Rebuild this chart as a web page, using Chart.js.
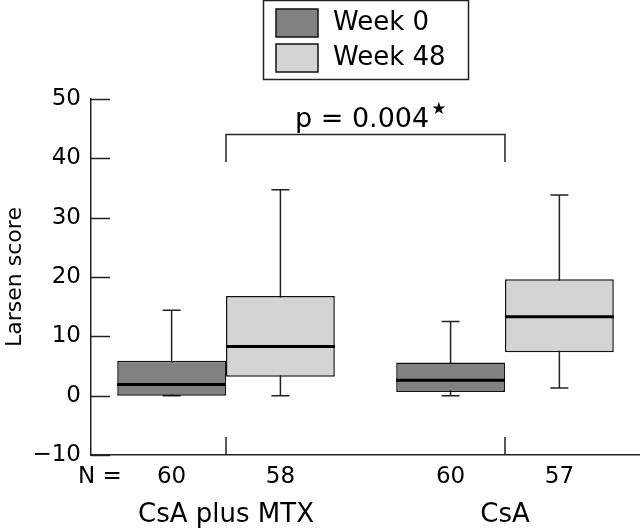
<!DOCTYPE html>
<html><head><meta charset="utf-8">
<script src="https://cdn.jsdelivr.net/npm/chart.js@4/dist/chart.umd.min.js"></script>
<style>html,body{margin:0;padding:0;background:#fff}#wrap{width:640px;height:532px;position:relative}</style>
</head><body><div id="wrap"><canvas id="c"></canvas></div>
<script>
// ---- data ----
const categories = ["CsA plus MTX", "CsA"];
const seriesNames = ["Week 0", "Week 48"];
const week0Min = [0, 0];
const week0Q1 = [0, 0.6];
const week0Median = [1.9, 2.6];
const week0Q3 = [5.9, 5.6];
const week0Max = [14.4, 12.5];
const week48Min = [0, 1.3];
const week48Q1 = [3.2, 7.3];
const week48Median = [8.3, 13.3];
const week48Q3 = [16.8, 19.6];
const week48Max = [34.7, 33.8];
const week0N = [60, 60];
const week48N = [58, 57];
const yTicks = [-10, 0, 10, 20, 30, 40, 50];
const nLabel = "N =";
const pLabel = "p = 0.004";
const pStar = "\u2605";
const bracketTop = 44.0;
const bracketBottom = 39.4;

const FONT = "'DejaVu Sans', sans-serif";
const COL0 = '#818181', COL48 = '#d3d4d3';

const datasets = [
  {label: seriesNames[0], data: categories.map((c,i)=>({x: i, y: [week0Q1[i], week0Q3[i]]})),
   mins: week0Min, meds: week0Median, maxs: week0Max, ns: week0N, backgroundColor: COL0},
  {label: seriesNames[1], data: categories.map((c,i)=>({x: i, y: [week48Q1[i], week48Q3[i]]})),
   mins: week48Min, meds: week48Median, maxs: week48Max, ns: week48N, backgroundColor: COL48}
].map(d => Object.assign(d, {borderColor:'#111', borderWidth:1.5, borderSkipped:false,
   categoryPercentage:0.78, barPercentage:1.0}));

const boxPlugin = {
  id: 'boxExtras',
  beforeDatasetsDraw(chart) {
    const ctx = chart.ctx, y = chart.scales.y;
    ctx.save();
    ctx.strokeStyle = '#222'; ctx.lineWidth = 1.5;
    chart.data.datasets.forEach((ds, di) => {
      chart.getDatasetMeta(di).data.forEach((el, i) => {
        const x = el.x, cap = 9;
        const yMax = y.getPixelForValue(ds.maxs[i]), yMin = y.getPixelForValue(ds.mins[i]);
        const yMed = y.getPixelForValue(ds.meds[i]);
        ctx.beginPath();
        ctx.moveTo(x, yMed); ctx.lineTo(x, yMax);
        ctx.moveTo(x - cap, yMax); ctx.lineTo(x + cap, yMax);
        ctx.moveTo(x, yMed); ctx.lineTo(x, yMin);
        ctx.moveTo(x - cap, yMin); ctx.lineTo(x + cap, yMin);
        ctx.stroke();
      });
    });
    ctx.restore();
  },
  afterDatasetsDraw(chart) {
    const ctx = chart.ctx, y = chart.scales.y, xs = chart.scales.x, ca = chart.chartArea;
    ctx.save();
    // medians
    ctx.strokeStyle = '#000'; ctx.lineWidth = 3;
    chart.data.datasets.forEach((ds, di) => {
      chart.getDatasetMeta(di).data.forEach((el, i) => {
        const ym = y.getPixelForValue(ds.meds[i]);
        ctx.beginPath(); ctx.moveTo(el.x - el.width/2, ym); ctx.lineTo(el.x + el.width/2, ym); ctx.stroke();
      });
    });
    // inward ticks
    ctx.strokeStyle = '#222'; ctx.lineWidth = 1.5;
    y.ticks.forEach(t => {
      const yy = Math.round(y.getPixelForValue(t.value)) + 0.5;
      ctx.beginPath(); ctx.moveTo(ca.left, yy); ctx.lineTo(ca.left + 19, yy); ctx.stroke();
    });
    categories.forEach((c, i) => {
      const xx = xs.getPixelForValue(i);
      ctx.beginPath(); ctx.moveTo(xx, ca.bottom); ctx.lineTo(xx, ca.bottom - 18); ctx.stroke();
    });
    // bracket
    const bx1 = xs.getPixelForValue(0), bx2 = xs.getPixelForValue(1);
    const byT = y.getPixelForValue(bracketTop), byB = y.getPixelForValue(bracketBottom);
    ctx.beginPath();
    ctx.moveTo(bx1, byB); ctx.lineTo(bx1, byT); ctx.lineTo(bx2, byT); ctx.lineTo(bx2, byB);
    ctx.stroke();
    ctx.fillStyle = '#000';
    ctx.font = '27px ' + FONT;
    ctx.textBaseline = 'alphabetic';
    const pw = ctx.measureText(pLabel).width;
    const px = 295;
    ctx.textAlign = 'left';
    ctx.fillText(pLabel, px, byT - 8);
    ctx.font = '17px ' + FONT;
    ctx.fillText(pStar, px + pw + 2, byT - 21);
    // N labels
    ctx.font = '23px ' + FONT;
    ctx.textBaseline = 'middle';
    ctx.textAlign = 'left';
    ctx.fillText(nLabel, 78, 477);
    ctx.textAlign = 'center';
    chart.data.datasets.forEach((ds, di) => {
      chart.getDatasetMeta(di).data.forEach((el, i) => {
        ctx.fillText(String(ds.ns[i]), el.x, 477);
      });
    });
    // legend
    ctx.lineWidth = 1.5; ctx.strokeStyle = '#222';
    ctx.strokeRect(263.5, 0.5, 205, 79);
    const rows = [[COL0, seriesNames[0], 9], [COL48, seriesNames[1], 44]];
    ctx.font = '26px ' + FONT; ctx.textAlign = 'left'; ctx.textBaseline = 'middle';
    rows.forEach(r => {
      ctx.fillStyle = r[0]; ctx.fillRect(276, r[2], 42, 28);
      ctx.strokeStyle = '#111'; ctx.strokeRect(276, r[2], 42, 28);
      ctx.fillStyle = '#000'; ctx.fillText(r[1], 333, r[2] + 14);
    });
    ctx.restore();
  }
};

new Chart(document.getElementById('c'), {
  type: 'bar',
  data: {datasets},
  plugins: [boxPlugin],
  options: {
    responsive: true, maintainAspectRatio: false, animation: false,
    layout: {padding: {top: 99, right: 0, bottom: 0, left: 0}},
    plugins: {legend: {display: false}, tooltip: {enabled: false}},
    scales: {
      x: {
        type: 'linear', min: -0.484, max: 1.484, offset: false,
        afterBuildTicks(s) { s.ticks = categories.map((c, i) => ({value: i})); },
        grid: {display: false, drawTicks: false, offset: false},
        border: {display: true, color: '#222', width: 1.5},
        ticks: {color: '#000', font: {family: FONT, size: 26}, padding: 45,
                callback: v => categories[v]},
        afterFit(s) { s.height = 77; }
      },
      y: {
        min: -10, max: 50,
        afterBuildTicks(s) { s.ticks = yTicks.map(v => ({value: v})); },
        grid: {display: false, drawTicks: false},
        border: {display: true, color: '#222', width: 1.5},
        ticks: {color: '#000', font: {family: FONT, size: 23}, padding: 10,
                callback: v => String(v).replace('-', '\u2212')},
        title: {display: true, text: 'Larsen score', color: '#000', font: {family: FONT, size: 22}, padding: {top: 2, bottom: 0}},
        afterFit(s) { s.width = 91; }
      }
    }
  }
});
</script></body></html>
